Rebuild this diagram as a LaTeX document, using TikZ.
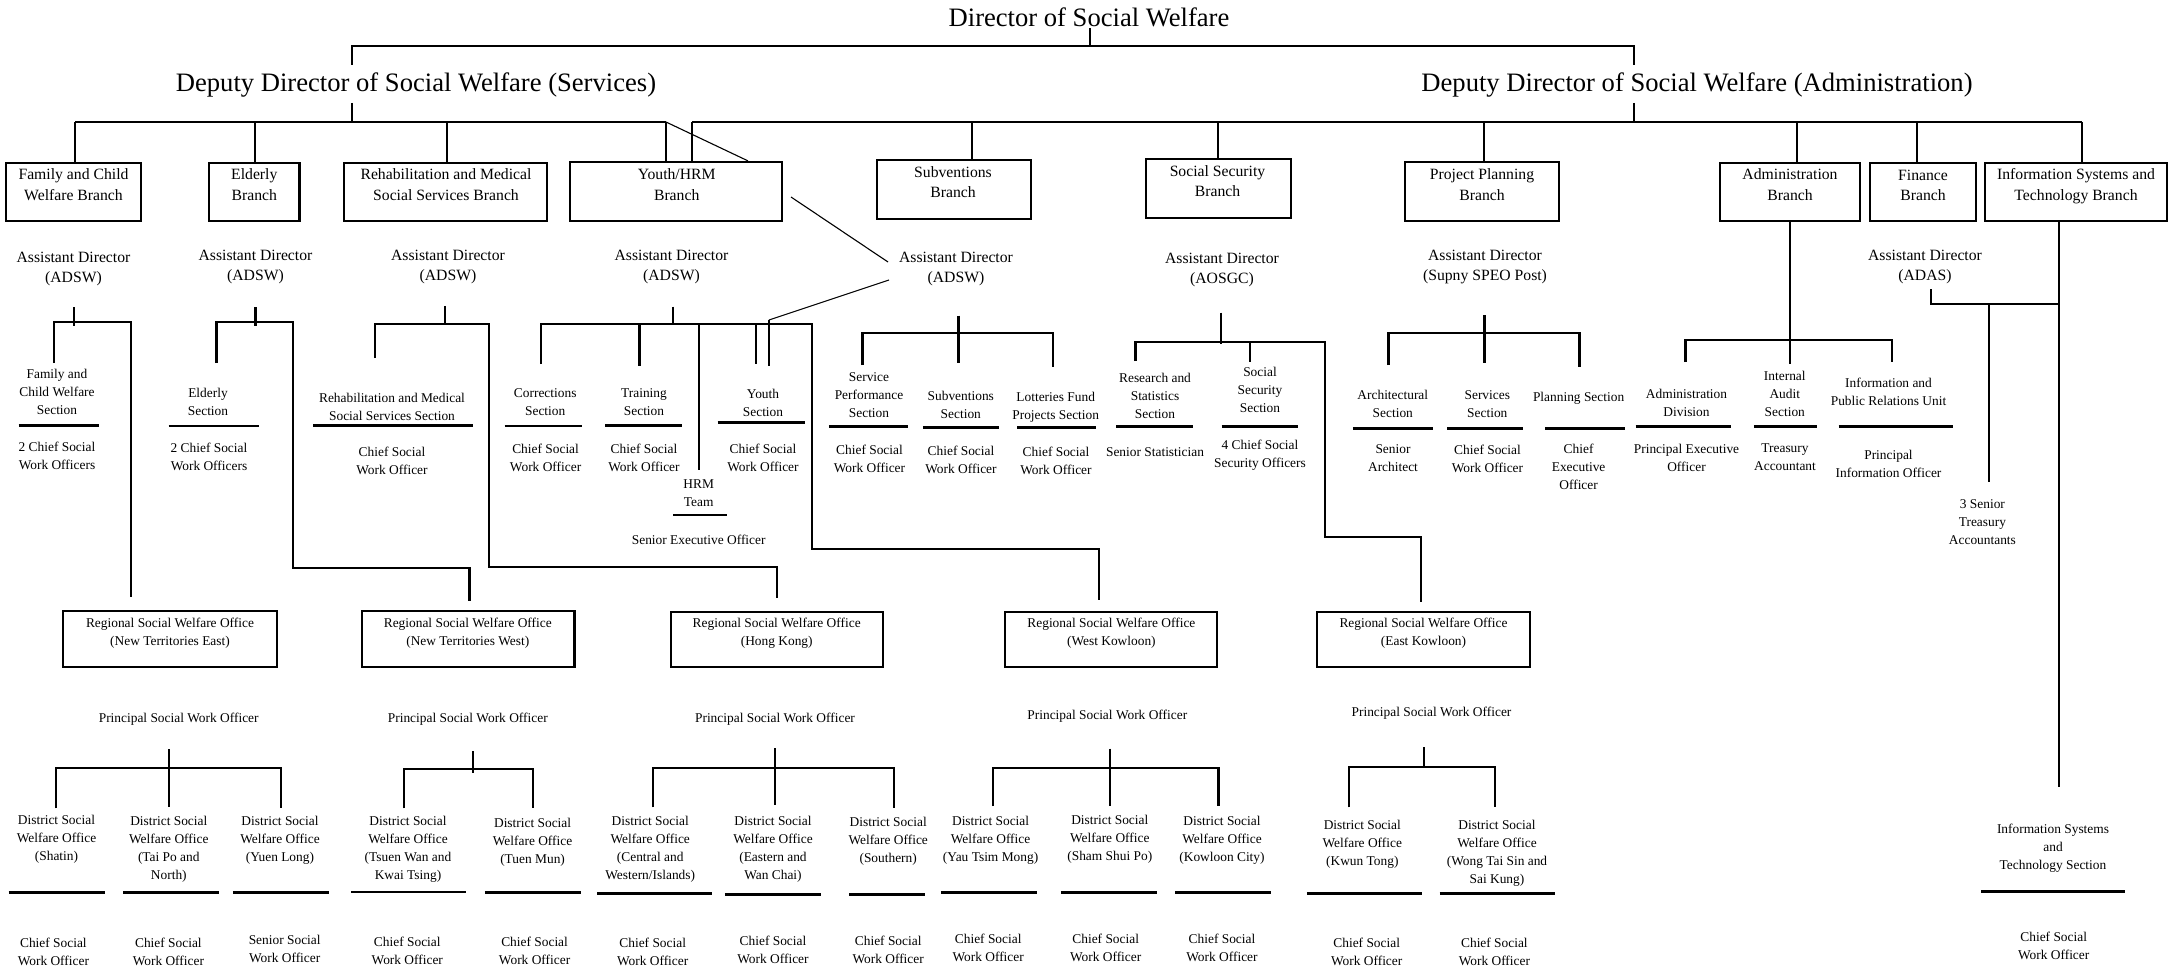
\documentclass[tikz,border=0pt]{standalone}
\usepackage{fontspec}
\setmainfont{Liberation Serif}
\usetikzlibrary{calc}
\tikzset{
  ttl/.style={font=\fontsize{13.3}{16}\selectfont, inner sep=0pt, yshift=-1.5pt, execute at begin node=\strut},
  brt/.style={font=\fontsize{7.85}{10.1}\selectfont, align=center, inner sep=0pt, yshift=-1.75pt, execute at begin node=\strut, execute at end node=\strut},
  sm/.style={font=\fontsize{6.7}{9}\selectfont, align=center, inner sep=0pt, yshift=-1.75pt, execute at begin node=\strut, execute at end node=\strut},
  brbox/.style 2 args={draw, line width=1.1pt, inner sep=0pt, minimum width=#1*0.5pt, minimum height=#2*0.5pt},
  ln/.style={line width=1.1pt},
  lnthin/.style={line width=0.55pt},
  uline/.style={line width=1.35pt}
}

\begin{document}
\begin{tikzpicture}[x=0.5pt, y=-0.5pt]
  \useasboundingbox (0,0) rectangle (2168,968);

  % top
  \node[ttl] (dsw) at (1089,17.5) {Director of Social Welfare};
  \node[ttl] (dds) at (416,82) {Deputy Director of Social Welfare (Services)};
  \node[ttl] (dda) at (1697,82) {Deputy Director of Social Welfare (Administration)};
  \draw[ln] (1090,28) -- (1090,46);
  \draw[ln] (352,65) |- (1634,46) -- (1634,65);
  \draw[ln] (352,103) -- (352,122);
  \draw[ln] (1634,103) -- (1634,122);

  % branches
  \node[brbox={135}{58}] (fcw) at (73.5,192) {};
  \node[brt] (fcwT) at (73.5,184) {Family and Child\\Welfare Branch};
  \node[brbox={90.5}{58}] (eld) at (254.3,192) {};
  \node[brt] (eldT) at (254.3,184) {Elderly\\Branch};
  \node[brbox={203}{58}] (rms) at (445.5,192) {};
  \node[brt] (rmsT) at (446,184) {Rehabilitation and Medical\\Social Services Branch};
  \node[brbox={212}{59}] (yth) at (676,191.5) {};
  \node[brt] (ythT) at (676.7,184) {Youth/HRM\\Branch};
  \node[brbox={154}{59}] (sub) at (954,189.5) {};
  \node[brt] (subT) at (953,181.5) {Subventions\\Branch};
  \node[brbox={145}{59}] (ssb) at (1218.5,188.5) {};
  \node[brt] (ssbT) at (1217.5,180.5) {Social Security\\Branch};
  \node[brbox={154}{59}] (ppb) at (1482,191.5) {};
  \node[brt] (ppbT) at (1482,184) {Project Planning\\Branch};
  \node[brbox={140}{58}] (adm) at (1790,192) {};
  \node[brt] (admT) at (1790,184) {Administration\\Branch};
  \node[brbox={106}{58}] (fin) at (1923,192) {};
  \node[brt] (finT) at (1923,184.5) {Finance\\Branch};
  \node[brbox={182}{58}] (ist) at (2076,192) {};
  \node[brt] (istT) at (2076,184) {Information Systems and\\Technology Branch};

  \draw[ln] (75,122) -- (666,122);
  \draw[ln] (692,122) -- (2082,122);
  \foreach \x/\b in {75/fcw, 255/eld, 447/rms, 666/yth, 692/yth, 972/sub, 1218/ssb, 1484/ppb, 1797/adm, 1917/fin, 2082/ist}
    \draw[ln] (\x,122) -- (\x,122 |- \b.north);
  \draw[lnthin] (666,122) -- (748,122 |- yth.north);

  % assistant directors
  \node[brt] (ad1) at (73.5,267) {Assistant Director\\(ADSW)};
  \node[brt] (ad2) at (255.5,265) {Assistant Director\\(ADSW)};
  \node[brt] (ad3) at (448,265) {Assistant Director\\(ADSW)};
  \node[brt] (ad4) at (671.5,265) {Assistant Director\\(ADSW)};
  \node[brt] (ad5) at (956,266.7) {Assistant Director\\(ADSW)};
  \node[brt] (ad6) at (1222,267.5) {Assistant Director\\(AOSGC)};
  \node[brt] (ad7) at (1485,264.5) {Assistant Director\\(Supny SPEO Post)};
  \node[brt] (ad8) at (1925,264.5) {Assistant Director\\(ADAS)};

  \coordinate (dg1) at (791,197);
  \coordinate (dg2) at (888,262);
  \coordinate (dg3) at (889,280);
  \coordinate (dg4) at (769,320);
  \draw[lnthin] (dg1) -- (dg2);
  \draw[lnthin] (dg3) -- (dg4);
  \draw[line width=0.8pt] (dg4) -- (769,366);

  % family and child welfare
  \draw[ln] (74,307) -- (74,326);
  \draw[ln] (54,363) |- (131,322) -- (131,597);
  \node[sm] (sFcw) at (57,391) {Family and\\Child Welfare\\Section};
  \draw[uline] (18.6,425.7) -- (99,425.7);
  \node[sm] (oFcw) at (57,454.7) {2 Chief Social\\Work Officers};

  % elderly
  \draw[ln] (255.4,307) -- (255.4,326);
  \draw[ln] (216.4,363) |- (292.9,322) |- (469.4,567.7) -- (469.4,601);
  \node[sm] (sEld) at (208,400.7) {Elderly\\Section};
  \draw[uline] (168.6,426) -- (259,426);
  \node[sm] (oEld) at (209,455.5) {2 Chief Social\\Work Officers};

  % rehabilitation
  \draw[ln] (444.6,306) -- (444.6,324.3);
  \draw[ln] (374.6,358) |- (488.6,324) |- (777,566.7) -- (777,598);
  \node[sm] (sRms) at (392,405.7) {Rehabilitation and Medical\\Social Services Section};
  \draw[uline] (313,425.7) -- (472.5,425.7);
  \node[sm] (oRms) at (392,460) {Chief Social\\Work Officer};

  % youth/hrm
  \draw[ln] (672.6,306.7) -- (672.6,324.3);
  \draw[ln] (541.3,364) |- (812,324.3) |- (1099,549) -- (1099,600);
  \draw[ln] (639.4,324.3) -- (639.4,366);
  \draw[ln] (698.7,324.3) -- (698.7,470);
  \draw[ln] (755.6,324.3) -- (755.6,364);
  \node[sm] (sCor) at (545.2,401.7) {Corrections\\Section};
  \draw[uline] (504.5,426) -- (581.6,426);
  \node[sm] (oCor) at (545.6,456.7) {Chief Social\\Work Officer};
  \node[sm] (sTrn) at (644,401.7) {Training\\Section};
  \draw[uline] (605,425.3) -- (681.7,425.3);
  \node[sm] (oTrn) at (644,456.7) {Chief Social\\Work Officer};
  \node[sm] (sYth) at (763,401.7) {Youth\\Section};
  \draw[uline] (717.6,422.7) -- (805.4,422.7);
  \node[sm] (oYth) at (763,456.7) {Chief Social\\Work Officer};
  \node[sm] (sHrm) at (698.7,492.2) {HRM\\Team};
  \draw[uline] (673,515) -- (727,515);
  \node[sm] (oHrm) at (698.7,537.7) {Senior Executive Officer};

  % subventions
  \draw[ln] (958.5,315.7) -- (958.5,363.3);
  \draw[ln] (862.4,365) |- (1053,333.3) -- (1053,367);
  \node[sm] (sSpf) at (869,394.7) {Service\\Performance\\Section};
  \draw[uline] (828.8,426.7) -- (908.2,426.7);
  \node[sm] (oSpf) at (869.5,457.7) {Chief Social\\Work Officer};
  \node[sm] (sSvs) at (960.8,404) {Subventions\\Section};
  \draw[uline] (922.9,427.7) -- (998.8,427.7);
  \node[sm] (oSvs) at (961,458.8) {Chief Social\\Work Officer};
  \node[sm] (sLfp) at (1055.7,405.5) {Lotteries Fund\\Projects Section};
  \draw[uline] (1017,427.7) -- (1096,427.7);
  \node[sm] (oLfp) at (1056,460) {Chief Social\\Work Officer};

  % social security
  \draw[ln] (1221,312.7) -- (1221,344);
  \draw[ln] (1135.4,361) |- (1325,342.3) |- (1421,537.3) -- (1421,602);
  \draw[ln] (1250,342.3) -- (1250,361.7);
  \node[sm] (sRss) at (1155,394.7) {Research and\\Statistics\\Section};
  \draw[uline] (1116.4,426.7) -- (1192.7,426.7);
  \node[sm] (oRss) at (1155,449) {Senior Statistician};
  \node[sm] (sSss) at (1260,389.2) {Social\\Security\\Section};
  \draw[uline] (1221.6,426.3) -- (1297.9,426.3);
  \node[sm] (oSss) at (1260,453) {4 Chief Social\\Security Officers};

  % project planning
  \draw[ln] (1484.5,315) -- (1484.5,362.7);
  \draw[ln] (1388.4,365) |- (1579.5,332.7) -- (1579.5,366.7);
  \node[sm] (sArc) at (1392.8,403) {Architectural\\Section};
  \draw[uline] (1352.8,428.7) -- (1432.7,428.7);
  \node[sm] (oArc) at (1393,457.3) {Senior\\Architect};
  \node[sm] (sSvc) at (1487.3,403) {Services\\Section};
  \draw[uline] (1447,428.7) -- (1522.5,428.7);
  \node[sm] (oSvc) at (1487.5,458) {Chief Social\\Work Officer};
  \node[sm] (sPln) at (1578.6,394) {Planning Section};
  \draw[uline] (1545,428.7) -- (1624.5,428.7);
  \node[sm] (oPln) at (1578.6,466.4) {Chief\\Executive\\Officer};

  % administration
  \draw[ln] (adm.south) -- (adm.south |- 0,364);
  \draw[ln] (1685.5,362) |- (1892,340) -- (1892,362);
  \node[sm] (sAdv) at (1686.5,402.2) {Administration\\Division};
  \draw[uline] (1635.6,426.7) -- (1731,426.7);
  \node[sm] (oAdv) at (1686.5,456.8) {Principal Executive\\Officer};
  \node[sm] (sIas) at (1784.8,393.1) {Internal\\Audit\\Section};
  \draw[uline] (1753.8,426.7) -- (1816.8,426.7);
  \node[sm] (oIas) at (1785,456.8) {Treasury\\Accountant};
  \node[sm] (sIpr) at (1888.5,390.5) {Information and\\Public Relations Unit};
  \draw[uline] (1838.6,426.7) -- (1953,426.7);
  \node[sm] (oIpr) at (1888.5,463.3) {Principal\\Information Officer};

  % finance and information systems
  \draw[ln] (1931,289.3) |- (2059.2,304);
  \draw[ln] (1989,304) -- (1989,482.3);
  \node[sm] (sSta) at (1982.4,521) {3 Senior\\Treasury\\Accountants};
  \draw[ln] (2059.2,0 |- ist.south) -- (2059.2,786.7);
  \node[sm] (sIst) at (2053,845.5) {Information Systems\\and\\Technology Section};
  \draw[uline] (1981,891.7) -- (2124.7,891.7);
  \node[sm] (oIst) at (2053.7,945) {Chief Social\\Work Officer};

  % regional offices
  \node[brbox={213.5}{55.7}] (nte) at (170,638.8) {};
  \node[sm] (nteT) at (170,630.8) {Regional Social Welfare Office\\(New Territories East)};
  \node[brbox={212.7}{55.7}] (ntw) at (468.2,638.8) {};
  \node[sm] (ntwT) at (467.8,630.8) {Regional Social Welfare Office\\(New Territories West)};
  \node[brbox={212.7}{54.7}] (hk) at (777,639.3) {};
  \node[sm] (hkT) at (776.7,630.8) {Regional Social Welfare Office\\(Hong Kong)};
  \node[brbox={212}{54.7}] (wk) at (1111.3,639.3) {};
  \node[sm] (wkT) at (1111.4,630.8) {Regional Social Welfare Office\\(West Kowloon)};
  \node[brbox={213}{55}] (ek) at (1423.8,639.2) {};
  \node[sm] (ekT) at (1423.5,631) {Regional Social Welfare Office\\(East Kowloon)};

  \node[sm] (pNte) at (178.7,715) {Principal Social Work Officer};
  \node[sm] (pNtw) at (467.8,715) {Principal Social Work Officer};
  \node[sm] (pHk) at (775,715) {Principal Social Work Officer};
  \node[sm] (pWk) at (1107.3,712.7) {Principal Social Work Officer};
  \node[sm] (pEk) at (1431.5,709.3) {Principal Social Work Officer};

  % new territories east
  \draw[ln] (168.8,749.3) -- (168.8,806.7);
  \draw[ln] (55.8,808.3) |- (281,767.7) -- (281,808.3);
  \node[sm] (dSha) at (56.5,837.5) {District Social\\Welfare Office\\(Shatin)};
  \draw[uline] (8.7,892.3) -- (104.8,892.3);
  \node[sm] (oSha) at (53.4,950.5) {Chief Social\\Work Officer};
  \node[sm] (dTpo) at (168.8,847) {District Social\\Welfare Office\\(Tai Po and\\North)};
  \draw[uline] (123,892.3) -- (218.7,892.3);
  \node[sm] (oTpo) at (168.4,950.5) {Chief Social\\Work Officer};
  \node[sm] (dYl) at (280,838) {District Social\\Welfare Office\\(Yuen Long)};
  \draw[uline] (232.9,892.3) -- (328.6,892.3);
  \node[sm] (oYl) at (284.7,947.7) {Senior Social\\Work Officer};

  % new territories west
  \draw[ln] (473,751) -- (473,773.3);
  \draw[ln] (404,808.3) |- (533,768.7) -- (533,808.3);
  \node[sm] (dTw) at (408,847) {District Social\\Welfare Office\\(Tsuen Wan and\\Kwai Tsing)};
  \draw[uline] (351,892) -- (465.8,892);
  \node[sm] (oTw) at (407.3,949.8) {Chief Social\\Work Officer};
  \node[sm] (dTm) at (532.6,840) {District Social\\Welfare Office\\(Tuen Mun)};
  \draw[uline] (484.8,892.3) -- (580.5,892.3);
  \node[sm] (oTm) at (534.6,949.8) {Chief Social\\Work Officer};

  % hong kong
  \draw[ln] (775.1,748.3) -- (775.1,805);
  \draw[ln] (652.7,807.3) |- (893.9,767.7) -- (893.9,808.3);
  \node[sm] (dCw) at (650.2,846.7) {District Social\\Welfare Office\\(Central and\\Western/Islands)};
  \draw[uline] (597,893.3) -- (711.8,893.3);
  \node[sm] (oCw) at (652.7,950.5) {Chief Social\\Work Officer};
  \node[sm] (dEwc) at (773,847) {District Social\\Welfare Office\\(Eastern and\\Wan Chai)};
  \draw[uline] (724.9,894.3) -- (820.8,894.3);
  \node[sm] (oEwc) at (773,948.8) {Chief Social\\Work Officer};
  \node[sm] (dSou) at (888.2,839.4) {District Social\\Welfare Office\\(Southern)};
  \draw[uline] (849.4,894.3) -- (924.9,894.3);
  \node[sm] (oSou) at (888.2,948.8) {Chief Social\\Work Officer};

  % west kowloon
  \draw[ln] (1110.2,748.7) -- (1110.2,806);
  \draw[ln] (992.7,806) |- (1218.5,768.3) -- (1218.5,806);
  \node[sm] (dYtm) at (990.6,838.1) {District Social\\Welfare Office\\(Yau Tsim Mong)};
  \draw[uline] (940.8,892.3) -- (1037.1,892.3);
  \node[sm] (oYtm) at (988.2,946.7) {Chief Social\\Work Officer};
  \node[sm] (dSsp) at (1109.8,836.7) {District Social\\Welfare Office\\(Sham Shui Po)};
  \draw[uline] (1060.8,892.3) -- (1157.1,892.3);
  \node[sm] (oSsp) at (1105.7,946.7) {Chief Social\\Work Officer};
  \node[sm] (dKlc) at (1222,838.3) {District Social\\Welfare Office\\(Kowloon City)};
  \draw[uline] (1175,892.3) -- (1271,892.3);
  \node[sm] (oKlc) at (1222,946.7) {Chief Social\\Work Officer};

  % east kowloon
  \draw[ln] (1424,747.3) -- (1424,766.7);
  \draw[ln] (1348.8,807.3) |- (1495,767.3) -- (1495,807.3);
  \node[sm] (dKt) at (1362.3,842.2) {District Social\\Welfare Office\\(Kwun Tong)};
  \draw[uline] (1306.8,893.7) -- (1422.2,893.7);
  \node[sm] (oKt) at (1366.7,950.5) {Chief Social\\Work Officer};
  \node[sm] (dWts) at (1497,851.5) {District Social\\Welfare Office\\(Wong Tai Sin and\\Sai Kung)};
  \draw[uline] (1439.5,893.7) -- (1555,893.7);
  \node[sm] (oWts) at (1494.4,950.5) {Chief Social\\Work Officer};
\end{tikzpicture}
\end{document}
